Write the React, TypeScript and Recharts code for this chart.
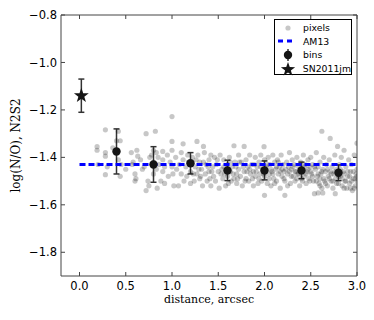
import { ScatterChart, Scatter, XAxis, YAxis, ErrorBar } from 'recharts';

const xTicks = [0, 0.5, 1, 1.5, 2, 2.5, 3];
const yTicks = [-1.8, -1.6, -1.4, -1.2, -1.0, -0.8];

// individual pixels, [distance, log(N/O)]
const pixelPoints: [number, number][] = [
  [0.19, -1.355], [0.19, -1.37], [0.2, -1.43], [0.28, -1.284], [0.28, -1.38], [0.28, -1.395],
  [0.28, -1.473], [0.3, -1.44], [0.36, -1.36], [0.4, -1.33], [0.42, -1.29], [0.44, -1.33],
  [0.44, -1.48], [0.42, -1.41], [0.45, -1.43], [0.5, -1.45], [0.56, -1.38], [0.57, -1.43],
  [0.58, -1.42], [0.6, -1.47], [0.6, -1.5], [0.61, -1.49], [0.63, -1.395], [0.62, -1.37],
  [0.66, -1.41], [0.68, -1.45], [0.7, -1.44], [0.72, -1.3], [0.72, -1.54], [0.74, -1.5],
  [0.75, -1.52], [0.76, -1.4], [0.78, -1.39], [0.8, -1.37], [0.8, -1.47], [0.8, -1.42],
  [0.82, -1.29], [0.83, -1.38], [0.83, -1.45], [0.84, -1.53], [0.85, -1.4], [0.86, -1.43],
  [0.88, -1.5], [0.9, -1.375], [0.9, -1.41], [0.9, -1.46], [0.92, -1.44], [0.92, -1.51],
  [0.95, -1.39], [0.96, -1.48], [0.98, -1.42], [1.0, -1.228], [1.0, -1.333], [1.0, -1.37],
  [1.0, -1.44], [1.01, -1.47], [1.02, -1.52], [1.04, -1.4], [1.05, -1.45],
  [1.07, -1.52], [1.08, -1.43], [1.1, -1.38], [1.1, -1.47], [1.12, -1.343], [1.12, -1.41],
  [1.13, -1.5], [1.15, -1.44], [1.16, -1.48], [1.17, -1.39], [1.18, -1.42], [1.2, -1.46],
  [1.2, -1.51], [1.22, -1.4], [1.24, -1.5], [1.25, -1.44], [1.27, -1.333], [1.27, -1.47],
  [1.28, -1.39], [1.3, -1.42], [1.3, -1.49], [1.32, -1.45], [1.33, -1.52], [1.34, -1.354],
  [1.35, -1.38], [1.36, -1.47], [1.37, -1.43], [1.38, -1.5], [1.4, -1.41], [1.4, -1.46],
  [1.42, -1.39], [1.42, -1.52], [1.44, -1.44], [1.45, -1.48], [1.46, -1.4], [1.47, -1.5],
  [1.48, -1.43], [1.5, -1.46], [1.51, -1.53], [1.52, -1.39],
  [1.54, -1.45], [1.55, -1.49], [1.56, -1.41], [1.57, -1.47], [1.58, -1.52], [1.6, -1.43],
  [1.6, -1.48], [1.62, -1.4], [1.63, -1.46], [1.64, -1.5], [1.65, -1.44], [1.67, -1.351],
  [1.67, -1.49], [1.68, -1.42], [1.7, -1.47], [1.7, -1.51], [1.72, -1.39], [1.72, -1.45],
  [1.74, -1.48], [1.75, -1.42], [1.76, -1.52], [1.78, -1.354], [1.78, -1.46], [1.8, -1.41],
  [1.8, -1.49], [1.82, -1.44], [1.83, -1.5], [1.84, -1.39], [1.85, -1.47], [1.86, -1.43],
  [1.88, -1.52], [1.88, -1.46], [1.9, -1.4], [1.9, -1.48], [1.92, -1.44], [1.93, -1.51],
  [1.94, -1.42], [1.95, -1.47], [1.96, -1.39], [1.97, -1.5], [1.98, -1.45], [1.995, -1.355],
  [2.0, -1.56], [2.0, -1.41], [2.0, -1.48],
  [2.02, -1.44], [2.03, -1.51], [2.04, -1.4], [2.05, -1.47], [2.06, -1.43], [2.07, -1.52],
  [2.08, -1.46], [2.09, -1.39], [2.1, -1.49], [2.11, -1.42], [2.12, -1.45], [2.13, -1.5],
  [2.14, -1.41], [2.15, -1.47], [2.16, -1.44], [2.17, -1.53], [2.18, -1.39], [2.19, -1.48],
  [2.2, -1.43], [2.21, -1.46], [2.22, -1.56], [2.22, -1.5], [2.24, -1.42], [2.25, -1.47],
  [2.26, -1.44], [2.27, -1.38], [2.28, -1.51], [2.29, -1.45], [2.3, -1.41], [2.31, -1.48],
  [2.32, -1.43], [2.33, -1.5], [2.34, -1.46], [2.35, -1.4], [2.36, -1.47], [2.37, -1.44],
  [2.38, -1.52], [2.39, -1.42], [2.4, -1.49], [2.41, -1.45], [2.42, -1.39], [2.43, -1.48],
  [2.44, -1.43], [2.45, -1.51], [2.46, -1.46], [2.47, -1.41], [2.48, -1.49], [2.49, -1.44],
  [2.5, -1.4], [2.51, -1.47], [2.52, -1.43], [2.53, -1.5], [2.54, -1.553], [2.55, -1.45],
  [2.56, -1.38], [2.57, -1.48], [2.58, -1.44], [2.59, -1.51], [2.6, -1.42], [2.6, -1.49],
  [2.61, -1.47], [2.62, -1.29], [2.62, -1.53], [2.63, -1.45], [2.64, -1.4], [2.65, -1.5],
  [2.66, -1.46], [2.67, -1.43], [2.68, -1.52], [2.69, -1.48], [2.7, -1.41], [2.71, -1.32],
  [2.71, -1.46], [2.72, -1.5], [2.73, -1.44], [2.74, -1.53], [2.75, -1.47], [2.76, -1.39],
  [2.765, -1.553], [2.77, -1.49], [2.78, -1.45], [2.79, -1.354], [2.8, -1.51], [2.81, -1.43],
  [2.82, -1.48], [2.83, -1.4], [2.84, -1.52], [2.85, -1.46], [2.86, -1.37], [2.87, -1.5],
  [2.88, -1.44], [2.89, -1.53], [2.9, -1.48], [2.91, -1.41], [2.92, -1.51], [2.93, -1.46],
  [2.94, -1.43], [2.95, -1.54], [2.96, -1.49], [2.97, -1.39], [2.98, -1.52], [2.99, -1.47],
  [3.0, -1.34], [3.0, -1.45], [3.0, -1.5],
  // denser part of the band
  [1.21, -1.43], [1.23, -1.47], [1.26, -1.41], [1.29, -1.45], [1.31, -1.48], [1.34, -1.42],
  [1.39, -1.44], [1.41, -1.49], [1.43, -1.46], [1.49, -1.41], [1.53, -1.47], [1.56, -1.44],
  [1.59, -1.46], [1.61, -1.51], [1.63, -1.42], [1.66, -1.47], [1.69, -1.44], [1.71, -1.49],
  [1.73, -1.42], [1.77, -1.44], [1.79, -1.5], [1.81, -1.46], [1.84, -1.45], [1.87, -1.49],
  [1.89, -1.43], [1.91, -1.46], [1.94, -1.49], [1.96, -1.44], [1.99, -1.47], [2.01, -1.46],
  [2.03, -1.43], [2.05, -1.49], [2.07, -1.45], [2.09, -1.47], [2.11, -1.51], [2.13, -1.44],
  [2.15, -1.42], [2.17, -1.46], [2.19, -1.45], [2.21, -1.49], [2.23, -1.45], [2.25, -1.52],
  [2.27, -1.46], [2.29, -1.48], [2.31, -1.44], [2.33, -1.46], [2.35, -1.49], [2.37, -1.47],
  [2.39, -1.45], [2.41, -1.5], [2.43, -1.44], [2.45, -1.47], [2.47, -1.45], [2.49, -1.5],
  [2.5, -1.46], [2.52, -1.48], [2.54, -1.44], [2.56, -1.5], [2.58, -1.47], [2.6, -1.52],
  [2.62, -1.46], [2.64, -1.49], [2.66, -1.51], [2.68, -1.45], [2.7, -1.49], [2.72, -1.47],
  [2.74, -1.5], [2.76, -1.46], [2.78, -1.51], [2.8, -1.48], [2.82, -1.45], [2.84, -1.49],
  [2.86, -1.47], [2.88, -1.5], [2.9, -1.46], [2.92, -1.48], [2.94, -1.5], [2.96, -1.46],
  [2.98, -1.49], [3.0, -1.48], [2.97, -1.53], [2.93, -1.53], [2.63, -1.55], [2.58, -1.55],
  [2.86, -1.53],
];

const binX = [0.4, 0.8, 1.2, 1.6, 2.0, 2.4, 2.8];
const binY = [-1.375, -1.43, -1.425, -1.455, -1.455, -1.455, -1.465];
const binErr = [0.095, 0.075, 0.045, 0.043, 0.04, 0.035, 0.033];

const snX = [0.02];
const snY = [-1.14];
const snErr = [0.07];

const am13X = [0, 3.0];
const am13Level = -1.43;

const pixels = pixelPoints.map(([x, y]) => ({ x, y }));
const bins = binX.map((x, i) => ({ x, y: binY[i], err: binErr[i] }));
const sn = snX.map((x, i) => ({ x, y: snY[i], err: snErr[i] }));
const am13 = am13X.map((x) => ({ x, y: am13Level }));

const fmt = (v: number) => (v < 0 ? '\u2212' + Math.abs(v).toFixed(1) : v.toFixed(1));

const frame = '#444';
const sans = 'DejaVu Sans, sans-serif';
const serif = 'DejaVu Serif, serif';

const EmptyTick = () => <g />;

const starPoints = (cx: number, cy: number, r: number) => {
  const pts: string[] = [];
  for (let i = 0; i < 10; i++) {
    const rad = i % 2 === 0 ? r : r * 0.4;
    const a = -Math.PI / 2 + (i * Math.PI) / 5;
    pts.push(`${cx + rad * Math.cos(a)},${cy + rad * Math.sin(a)}`);
  }
  return pts.join(' ');
};

const PixelDot = ({ cx, cy }: any) => (
  <circle cx={cx} cy={cy} r={2.6} fill='#000' fillOpacity={0.22} />
);
const BinDot = ({ cx, cy }: any) => <circle cx={cx} cy={cy} r={4.2} fill='#151515' />;
const Star = ({ cx, cy }: any) => <polygon points={starPoints(cx, cy, 7.8)} fill='#151515' />;

const LegendBox = () => {
  const row = { height: 13.6, display: 'flex', alignItems: 'center' } as const;
  return (
    <div
      style={{
        position: 'absolute',
        left: 274,
        top: 19,
        width: 78,
        height: 56,
        boxSizing: 'border-box',
        border: '1px solid #000',
        background: '#fff',
        paddingTop: 1,
        fontFamily: sans,
        fontSize: 9.3,
      }}
    >
      {[
        { name: 'pixels', icon: <circle cx={13} cy={7} r={2.6} fill='#000' fillOpacity={0.22} /> },
        {
          name: 'AM13',
          icon: <line x1={3} y1={7} x2={18} y2={7} stroke='#0000ff' strokeWidth={3} strokeDasharray='5 4' />,
        },
        {
          name: 'bins',
          icon: (
            <g>
              <line x1={13} y1={1} x2={13} y2={13} stroke='#333' strokeWidth={1.5} />
              <circle cx={13} cy={7} r={4.2} fill='#151515' />
            </g>
          ),
        },
        { name: 'SN2011jm', icon: <polygon points={starPoints(13, 7.5, 7.5)} fill='#151515' /> },
      ].map((e) => (
        <div key={e.name} style={row}>
          <svg width={28} height={14}>
            {e.icon}
          </svg>
          <span>{e.name}</span>
        </div>
      ))}
    </div>
  );
};

const App = () => {
  return (
    <div style={{ position: 'absolute', left: 0, top: 0, width: 374, height: 320 }}>
      <ScatterChart width={374} height={320} margin={{ top: 15, right: 17, bottom: 0, left: 0 }}>
        <XAxis
          dataKey='x'
          type='number'
          domain={[-0.2, 3.0]}
          ticks={xTicks}
          tickFormatter={fmt}
          height={44}
          tickLine={false}
          tickSize={0}
          tickMargin={6}
          axisLine={{ stroke: frame }}
          tick={{ fontSize: 11.5, fill: '#000', fontFamily: sans }}
          allowDataOverflow
          label={{
            value: 'distance, arcsec',
            position: 'insideBottom',
            offset: 17,
            style: { fontFamily: serif, fontSize: 11, fill: '#000' },
          }}
        />
        <XAxis
          xAxisId='bt'
          dataKey='x'
          type='number'
          domain={[-0.2, 3.0]}
          ticks={xTicks}
          orientation='bottom'
          mirror
          tick={EmptyTick}
          tickSize={4}
          tickLine={{ stroke: frame }}
          axisLine={false}
          allowDataOverflow
        />
        <XAxis
          xAxisId='top'
          dataKey='x'
          type='number'
          domain={[-0.2, 3.0]}
          ticks={xTicks}
          orientation='top'
          mirror
          tick={EmptyTick}
          tickSize={4}
          tickLine={{ stroke: frame }}
          axisLine={{ stroke: frame }}
          allowDataOverflow
        />
        <YAxis
          dataKey='y'
          type='number'
          domain={[-1.9, -0.8]}
          ticks={yTicks}
          tickFormatter={fmt}
          width={61}
          tickLine={false}
          tickSize={0}
          tickMargin={4}
          axisLine={{ stroke: frame }}
          tick={{ fontSize: 11.5, fill: '#000', fontFamily: sans }}
          allowDataOverflow
          label={{
            value: 'log(N/O), N2S2',
            angle: -90,
            position: 'insideLeft',
            offset: 16,
            style: { fontFamily: serif, fontSize: 12, fill: '#000', textAnchor: 'middle' },
          }}
        />
        <YAxis
          yAxisId='lm'
          dataKey='y'
          type='number'
          domain={[-1.9, -0.8]}
          ticks={yTicks}
          orientation='left'
          mirror
          tick={EmptyTick}
          tickSize={4}
          tickLine={{ stroke: frame }}
          axisLine={false}
          allowDataOverflow
        />
        <YAxis
          yAxisId='r'
          dataKey='y'
          type='number'
          domain={[-1.9, -0.8]}
          ticks={yTicks}
          orientation='right'
          mirror
          tick={EmptyTick}
          tickSize={4}
          tickLine={{ stroke: frame }}
          axisLine={{ stroke: frame }}
          allowDataOverflow
        />
        <Scatter name='pixels' data={pixels} shape={PixelDot} isAnimationActive={false} />
        <Scatter
          name='AM13'
          data={am13}
          line={{ stroke: '#0000ff', strokeWidth: 3, strokeDasharray: '6 3' }}
          shape={EmptyTick}
          isAnimationActive={false}
        />
        <Scatter name='bins' data={bins} shape={BinDot} isAnimationActive={false}>
          <ErrorBar dataKey='err' direction='y' width={3} stroke='#333' strokeWidth={1.5} />
        </Scatter>
        <Scatter name='SN2011jm' data={sn} shape={Star} isAnimationActive={false}>
          <ErrorBar dataKey='err' direction='y' width={3} stroke='#333' strokeWidth={1.5} />
        </Scatter>
      </ScatterChart>
      <LegendBox />
    </div>
  );
};

export default App;
